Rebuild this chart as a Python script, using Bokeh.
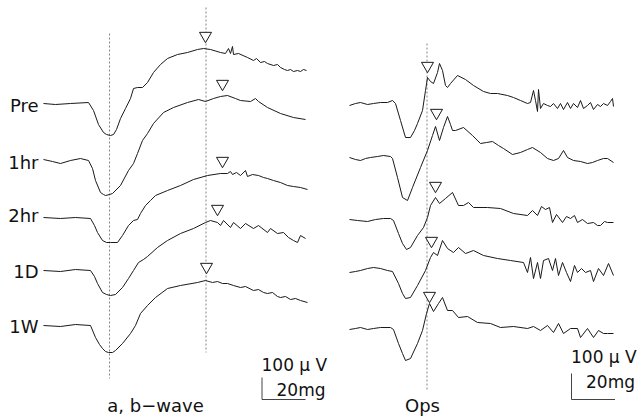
from bokeh.plotting import figure
from bokeh.models import Range1d
from bokeh.core.properties import value
from bokeh.embed import file_html
from bokeh.resources import INLINE

# ---------------- data ----------------
conditions = ["Pre", "1hr", "2hr", "1D", "1W"]

# a, b-wave traces: time (sample units from trace start), amplitude (units above baseline)
ab_pre_t = [0,12,27,45,50,55,60,63,67,70,73,77,82,87,90,94,99,104,110,117,124,134,144,154,160,167,177,182,185,187,189,190,195,204,210,213,217,221,224,230,234,237,241,244,247,250,254,257,260,263]
ab_pre_v = [0,-1,0,1,-7,-21,-29,-31,-32,-31,-26,-15,-5,5,15,16,16,21,31,39,45,49,51,54,55,54,51,50,55,50,57,49,50,46,43,45,41,42,40,38,39,36,34,33,34,32,33,32,34,33]
ab_1hr_t = [0,9,17,27,37,45,49,52,57,60,62,66,69,77,85,90,94,99,104,110,120,130,144,155,162,170,177,184,192,197,207,212,215,224,237,250,262]
ab_1hr_v = [0,-2,-4,-1,1,-1,-9,-21,-33,-35,-36,-35,-34,-26,-11,-4,6,19,26,36,47,52,57,60,58,61,63,64,61,59,58,61,58,52,46,42,40]
ab_2hr_t = [0,17,32,47,51,54,59,63,67,74,79,85,90,94,97,102,107,112,124,137,150,164,177,184,187,189,193,197,202,204,209,215,220,224,230,237,244,250,257,264]
ab_2hr_v = [0,-1,0,-1,-8,-15,-23,-25,-25,-25,-18,-8,-3,-2,4,12,17,22,27,32,38,42,44,44,46,43,45,42,47,41,43,42,40,39,37,35,32,31,30,28]
ab_1d_t = [0,17,32,47,51,54,59,63,67,72,79,85,90,95,100,104,114,124,137,150,162,167,174,177,180,187,190,197,202,210,215,224,227,234,240,245,250,254,257,262]
ab_1d_v = [0,-1,1,0,-6,-13,-22,-24,-25,-24,-17,-8,0,8,11,14,23,30,37,42,48,50,48,45,50,43,48,42,47,42,45,38,42,37,38,33,30,28,35,32]
ab_1w_t = [0,17,32,47,52,56,59,62,65,69,72,79,87,92,97,104,112,124,137,154,162,169,174,179,184,190,197,202,210,215,220,224,229,234,237,242,247,252,257,264]
ab_1w_v = [0,-1,1,0,-12,-19,-23,-26,-27,-27,-25,-18,-8,0,12,20,28,37,40,43,45,43,44,42,42,40,38,39,35,36,33,32,33,29,28,29,26,27,25,23]

# oscillatory potentials
ops_pre_t = [0,6,11,18,24,31,38,43,46,51,56,61,65,68,73,76,78,81,84,88,90,93,96,98,101,108,116,124,134,141,148,158,164,171,178,181,184,186,188,189,191,194,198,201,204,208,211,214,218,221,224,228,231,234,238,241,244,248,251,254,258,261,263,264]
ops_pre_v = [-2,0,1,-1,0,1,1,3,0,-17,-34,-34,-27,-20,-7,13,26,22,20,31,40,33,18,16,20,28,24,18,12,10,10,8,6,3,0,1,13,3,-8,14,-5,0,-2,-3,0,-5,0,-6,1,-5,0,-4,3,-5,-2,1,-6,-1,-3,0,-2,2,5,-3]
ops_1hr_t = [0,6,11,16,21,28,34,41,43,48,53,58,63,71,78,83,86,90,94,98,101,103,106,114,123,131,137,143,149,154,163,171,178,183,191,198,204,209,214,218,224,231,238,243,248,254,258,264]
ops_1hr_v = [0,-2,-3,-1,0,1,2,1,-1,-20,-40,-43,-30,-10,7,22,31,17,30,41,33,27,27,30,22,14,15,16,12,9,3,5,8,10,5,-1,-3,-1,7,0,-3,-4,-6,-5,-3,-1,-1,-5]
ops_2hr_t = [0,8,18,26,34,41,44,49,53,57,61,68,74,78,81,86,90,96,103,109,114,119,124,138,151,164,178,183,188,192,196,200,203,207,213,217,221,225,228,233,238,244,248,251,255,258,264]
ops_2hr_v = [0,-1,-2,0,1,1,-1,-14,-24,-30,-28,-16,-8,2,14,22,16,21,27,14,14,17,12,12,11,6,4,9,4,13,10,12,-3,5,-3,3,1,4,-3,0,-4,-3,-6,-6,-2,-3,-3]
ops_1d_t = [0,6,11,18,24,31,38,43,49,53,56,61,68,76,81,84,88,93,98,104,109,116,124,134,148,161,174,178,181,184,188,191,194,199,203,206,209,213,217,221,225,228,232,236,241,244,249,254,259,264]
ops_1d_v = [-1,0,1,3,4,3,1,0,-12,-22,-27,-26,-14,1,14,19,16,31,23,19,24,18,21,16,13,11,9,-1,14,-7,9,-7,11,13,1,13,-4,9,-1,-10,6,-1,3,-1,1,-10,3,-4,8,-4]
ops_1w_t = [0,6,11,18,24,31,41,44,49,53,56,61,68,73,77,80,84,89,93,98,103,109,118,128,141,151,164,178,184,191,198,204,209,214,221,228,231,238,244,249,254,258,264]
ops_1w_v = [-1,0,1,-1,0,1,1,-1,-15,-25,-32,-30,-15,-2,15,25,17,25,31,18,18,11,12,6,5,1,2,0,2,-2,3,-4,5,-5,0,0,-9,0,-9,-2,-5,-5,-5]

# peak markers (open triangles)
ab_peak_t = [162, 179, 179, 174, 163]
ab_peak_v = [66, 74, 55, 60, 57]
ops_peak_t = [78, 87, 86, 82, 80]
ops_peak_v = [36, 43, 32, 29, 31]

# reference times (dashed lines)
ab_mark_t = [66, 162.5]
ops_mark_t = [77.5]

# ---------------- layout ----------------
W, H = 638, 416
AB_X0, OPS_X0 = 43, 349
ab_base = [103, 159, 217, 270, 325]     # baseline rows (from top)
ops_base = [103, 157, 219, 271, 328]
label_mid = [104.5, 161.5, 215, 270.5, 325.5]
FONT = "DejaVu Sans"

p = figure(width=W, height=H, x_range=Range1d(0, W), y_range=Range1d(0, H),
           output_backend="svg", toolbar_location=None, min_border=0)
p.axis.visible = False
p.grid.visible = False
p.outline_line_color = None
p.background_fill_color = "white"
p.border_fill_color = "white"

ab_traces = [(ab_pre_t, ab_pre_v), (ab_1hr_t, ab_1hr_v), (ab_2hr_t, ab_2hr_v),
             (ab_1d_t, ab_1d_v), (ab_1w_t, ab_1w_v)]
ops_traces = [(ops_pre_t, ops_pre_v), (ops_1hr_t, ops_1hr_v), (ops_2hr_t, ops_2hr_v),
              (ops_1d_t, ops_1d_v), (ops_1w_t, ops_1w_v)]

# dashed reference lines
dash_ext = {0: (33, 378), 1: (7, 352)}
for i, t in enumerate(ab_mark_t):
    y_top, y_bot = dash_ext[i]
    p.line([AB_X0 + t] * 2, [H - y_top, H - y_bot], line_color="#666666",
           line_width=0.8, line_dash="2 2")
for t in ops_mark_t:
    p.line([OPS_X0 + t] * 2, [H - 43, H - 390], line_color="#666666",
           line_width=0.8, line_dash="2 2")

# traces
for (t, v), b in zip(ab_traces, ab_base):
    p.line([AB_X0 + x for x in t], [H - b + y for y in v], line_color="#1a1a1a", line_width=1)
for (t, v), b in zip(ops_traces, ops_base):
    p.line([OPS_X0 + x for x in t], [H - b + y for y in v], line_color="#1a1a1a", line_width=1)

# peak triangles
TRI_SHIFT = 1.7
p.scatter([AB_X0 + t for t in ab_peak_t],
          [H - b + v + TRI_SHIFT for b, v in zip(ab_base, ab_peak_v)],
          marker="inverted_triangle", size=12, fill_color="white",
          line_color="#1a1a1a", line_width=1)
p.scatter([OPS_X0 + t for t in ops_peak_t],
          [H - b + v + TRI_SHIFT for b, v in zip(ops_base, ops_peak_v)],
          marker="inverted_triangle", size=12, fill_color="white",
          line_color="#1a1a1a", line_width=1)

# row labels
p.text(x=[38] * 5, y=[H - m for m in label_mid], text=conditions,
       text_align="right", text_baseline="middle",
       text_font=value(FONT), text_font_size=value("18px"), text_color="#111111")

# panel titles
p.text(x=[155, 422], y=[H - 404.5, H - 404.5], text=["a, b\u2212wave", "Ops"],
       text_align="center", text_baseline="middle",
       text_font=value(FONT), text_font_size=value("18px"), text_color="#111111")

# scale bars
for (xb, ytop, ytxt1, ytxt2) in [(261.5, 377, 364, 389), (571, 373, 356, 381)]:
    p.line([xb, xb, xb + 43.5], [H - ytop, H - 399, H - 399], line_color="#444444", line_width=1)
    p.text(x=[xb - 0.5], y=[H - ytxt1], text=["100 \u03bc V"], text_align="left",
           text_baseline="middle", text_font=value(FONT),
           text_font_size=value("17px"), text_color="#111111")
    p.text(x=[xb + 14.5], y=[H - ytxt2], text=["20mg"], text_align="left",
           text_baseline="middle", text_font=value(FONT),
           text_font_size=value("17px"), text_color="#111111")

open("out.html", "w").write(file_html(p, INLINE))
